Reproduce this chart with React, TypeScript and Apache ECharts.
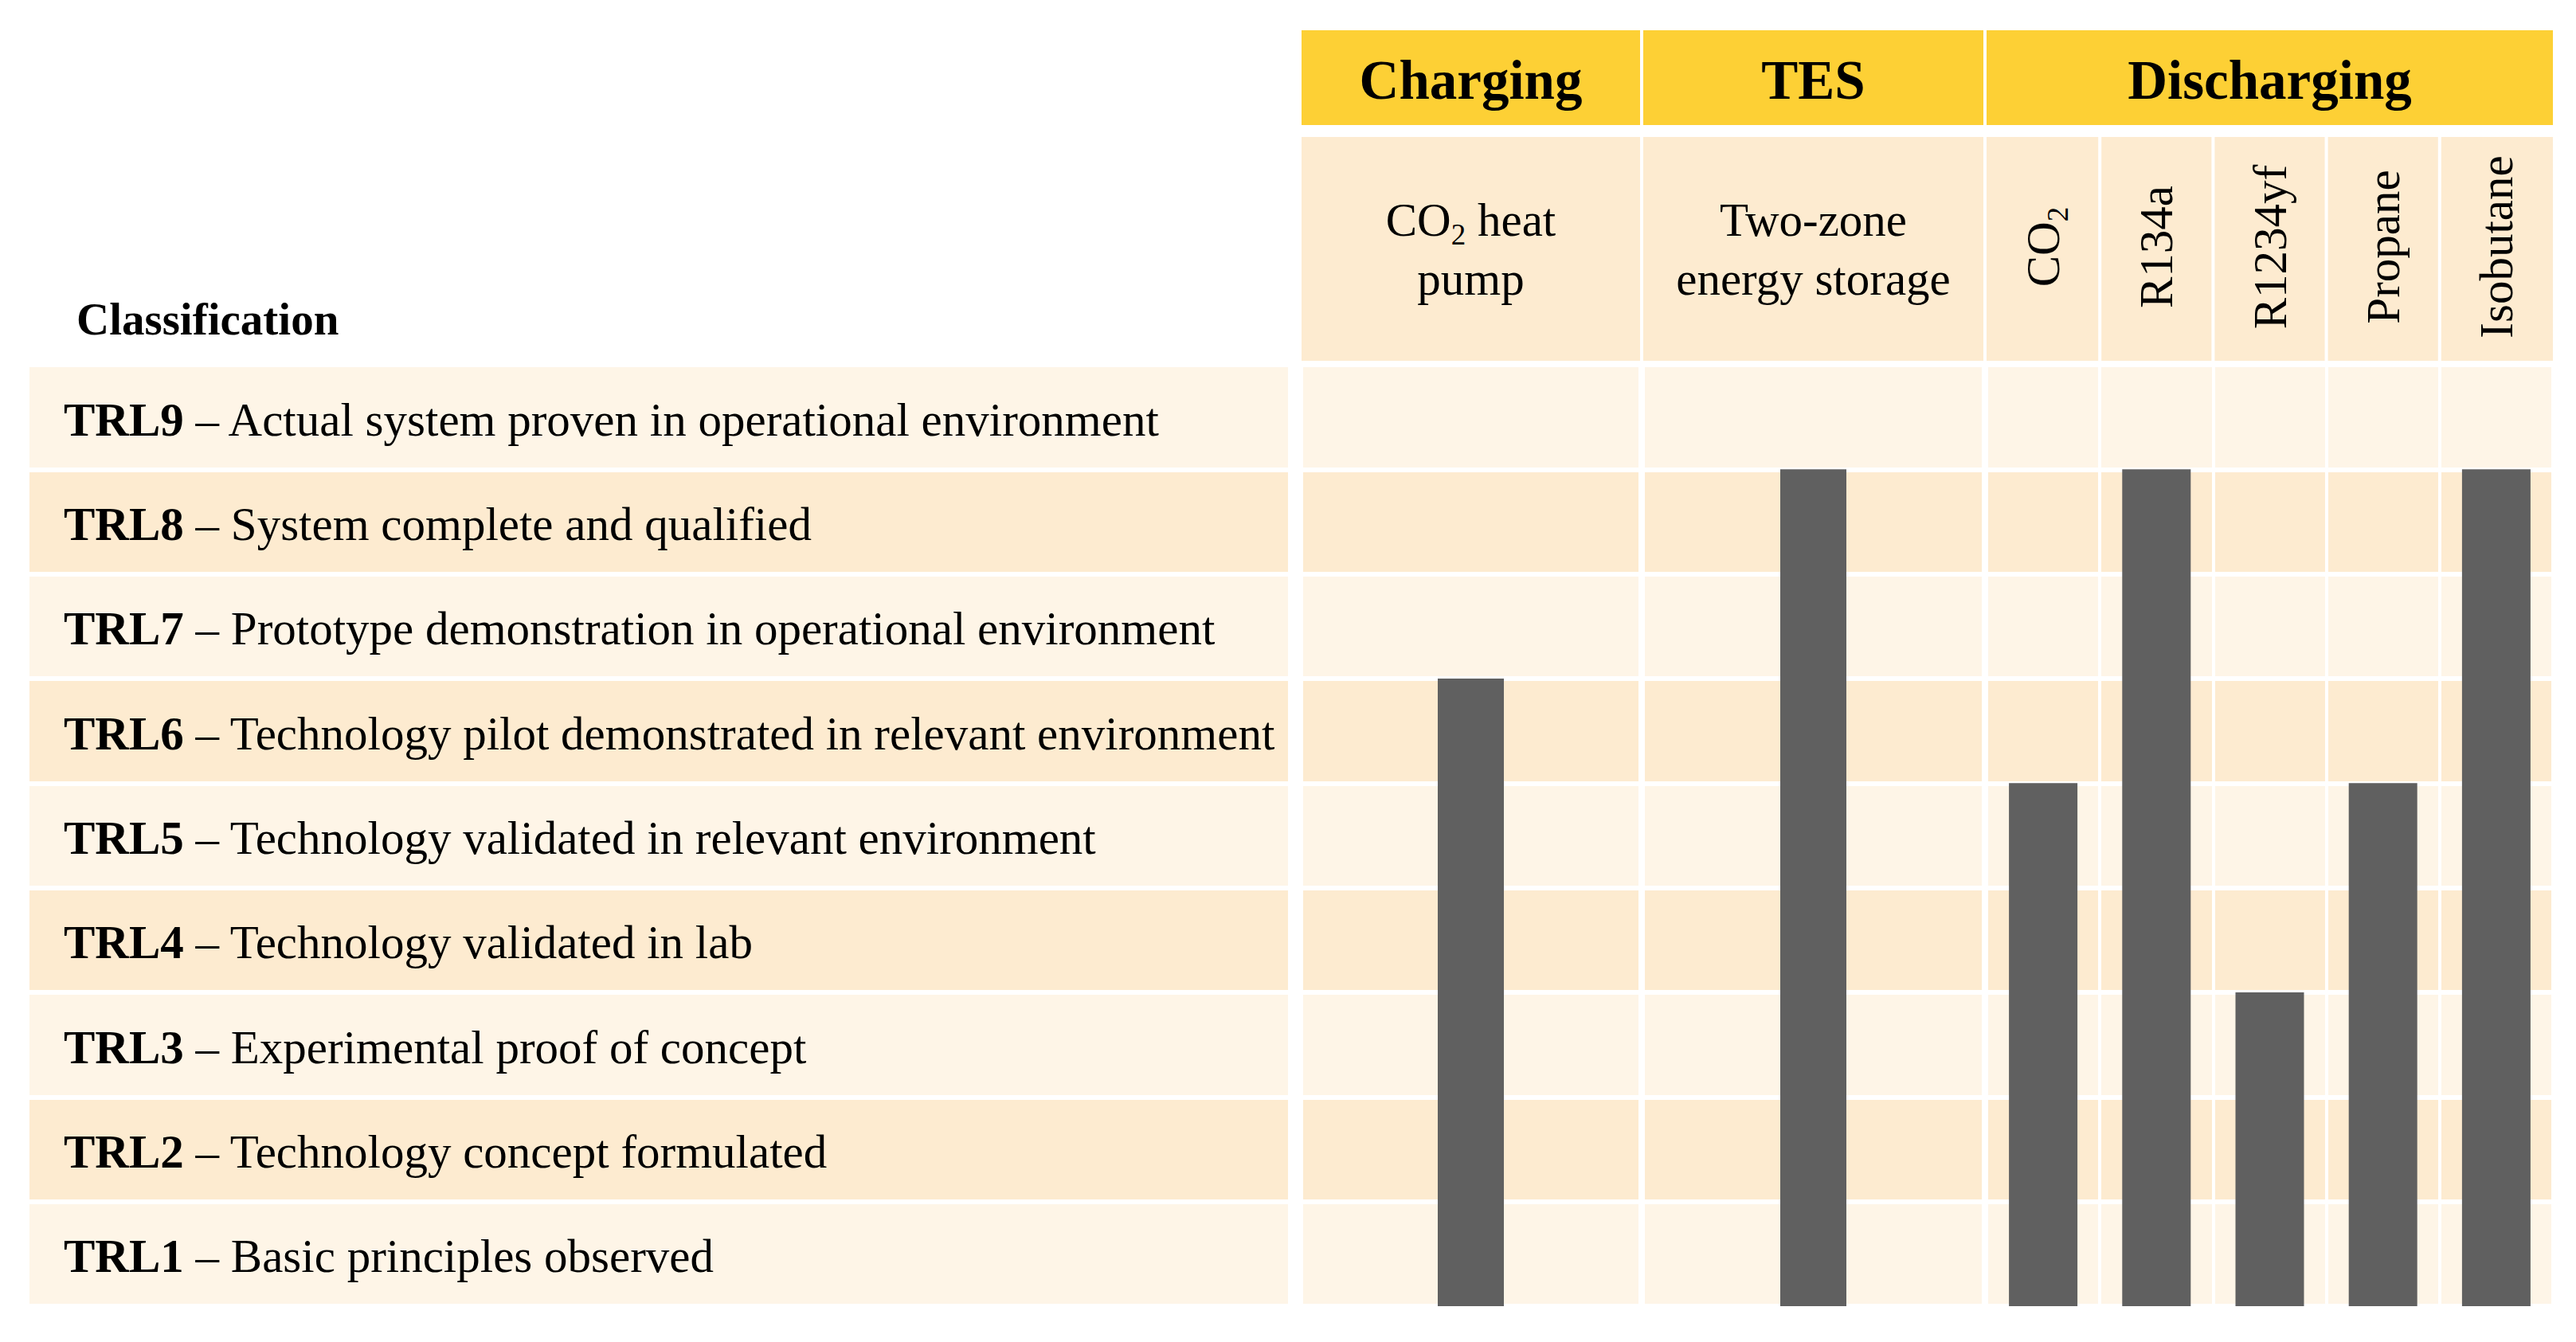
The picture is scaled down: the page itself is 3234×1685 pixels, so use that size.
import React, { useEffect, useRef } from "react";
import * as echarts from "echarts";

// ---------- data ----------
const TRL_LEVELS = ["TRL1", "TRL2", "TRL3", "TRL4", "TRL5", "TRL6", "TRL7", "TRL8", "TRL9"];
const TRL_DESCRIPTIONS = [
  "Basic principles observed",
  "Technology concept formulated",
  "Experimental proof of concept",
  "Technology validated in lab",
  "Technology validated in relevant environment",
  "Technology pilot demonstrated in relevant environment",
  "Prototype demonstration in operational environment",
  "System complete and qualified",
  "Actual system proven in operational environment",
];
const GROUPS = ["Charging", "TES", "Discharging"];
const CHARGING_TECH = ["CO2 heat pump"];
const CHARGING_TRL = [6];
const TES_TECH = ["Two-zone energy storage"];
const TES_TRL = [8];
const DISCHARGING_FLUIDS = ["CO2", "R134a", "R1234yf", "Propane", "Isobutane"];
const DISCHARGING_TRL = [5, 8, 3, 5, 8];
const CLASSIFICATION_TITLE = "Classification";

// ---------- style / layout ----------
const FONT = "'Liberation Serif', 'Times New Roman', serif";
const YELLOW = "#FDD035";
const BAND_DARK = "#FDEBD0";
const BAND_LIGHT = "#FEF5E7";
const BAR = "#606060";
const TOP = 458;
const BOTTOM = 45; // 1685 - 1640
const W = 3234;
const H = 1685;

const LEFT_GRID = { left: 37, width: 1580 };
const CH_GRID = { left: 1634, width: 425 };
const TES_GRID = { left: 2063, width: 427 };
const DIS_GRID = { left: 2494, width: 711 };
const COL_GRIDS = [CH_GRID, TES_GRID, DIS_GRID];

const LINE_WRAP: Record<string, string[]> = {
  "CO2 heat pump": ["CO2 heat", "pump"],
  "Two-zone energy storage": ["Two-zone", "energy storage"],
};

function toRich(line: string): string {
  return line
    .split("CO2")
    .map((p) => (p ? `{n|${p}}` : ""))
    .join("{n|CO}{s|2}");
}
function labelFmt(name: string): string {
  const lines = LINE_WRAP[name] || [name];
  return lines.map(toRich).join("\n");
}

const RICH = {
  n: { fontFamily: FONT, fontSize: 59, lineHeight: 74, color: "#000" },
  s: { fontFamily: FONT, fontSize: 37, lineHeight: 38, verticalAlign: "bottom", color: "#000" },
};

function valueYAxis(gridIndex: number) {
  return {
    type: "value",
    gridIndex,
    min: 0,
    max: 9,
    interval: 1,
    axisLabel: { show: false },
    axisLine: { show: false },
    axisTick: { show: false },
    splitLine: { show: true, lineStyle: { color: "#ffffff", width: 6 } },
    splitArea: { show: true, areaStyle: { color: [BAND_LIGHT, BAND_DARK] } },
  };
}

function catXAxis(gridIndex: number, data: string[], rotate: number, margin: number) {
  return {
    type: "category",
    gridIndex,
    data,
    position: "top",
    axisLine: { show: false },
    axisTick: { show: false },
    axisLabel: {
      interval: 0,
      rotate,
      margin,
      align: "center",
      verticalAlign: "middle",
      formatter: (v: string) => labelFmt(v),
      rich: RICH,
    },
    splitLine: { show: true, interval: 0, lineStyle: { color: "#ffffff", width: 4 } },
    z: 5,
  };
}

function buildGraphic() {
  const els: any[] = [];
  // header (group) cells
  COL_GRIDS.forEach((g, i) => {
    els.push({
      type: "rect",
      shape: { x: g.left, y: 38, width: g.width, height: 119 },
      style: { fill: YELLOW },
      z: 0,
    });
    els.push({
      type: "text",
      x: g.left + g.width / 2,
      y: 101,
      style: {
        text: GROUPS[i],
        fontFamily: FONT,
        fontSize: 69,
        fontWeight: "bold",
        fill: "#000",
        align: "center",
        verticalAlign: "middle",
        textAlign: "center",
        textVerticalAlign: "middle",
      },
      z: 2,
    });
  });
  // sub-header cells
  const subCells: { x: number; w: number }[] = [
    { x: CH_GRID.left, w: CH_GRID.width },
    { x: TES_GRID.left, w: TES_GRID.width },
  ];
  const dw = DIS_GRID.width / DISCHARGING_FLUIDS.length;
  DISCHARGING_FLUIDS.forEach((_, i) => {
    const x0 = DIS_GRID.left + i * dw + (i > 0 ? 2 : 0);
    const x1 = DIS_GRID.left + (i + 1) * dw - (i < DISCHARGING_FLUIDS.length - 1 ? 2 : 0);
    subCells.push({ x: x0, w: x1 - x0 });
  });
  subCells.forEach((c) => {
    els.push({
      type: "rect",
      shape: { x: c.x, y: 172, width: c.w, height: 281 },
      style: { fill: BAND_DARK },
      z: 0,
    });
  });
  els.push({
    type: "text",
    x: 96,
    y: 400,
    style: {
      text: CLASSIFICATION_TITLE,
      fontFamily: FONT,
      fontSize: 57,
      fontWeight: "bold",
      fill: "#000",
      align: "left",
      verticalAlign: "middle",
      textAlign: "left",
      textVerticalAlign: "middle",
    },
    z: 2,
  });
  return els;
}

export default function App() {
  const ref = useRef<HTMLDivElement>(null);
  useEffect(() => {
    document.body.style.margin = "0";
    if (!ref.current) return;
    const chart = echarts.init(ref.current, null, { renderer: "svg" });
    const option: any = {
      animation: false,
      backgroundColor: "#ffffff",
      grid: [
        { left: LEFT_GRID.left, width: LEFT_GRID.width, top: TOP, bottom: BOTTOM },
        { left: CH_GRID.left, width: CH_GRID.width, top: TOP, bottom: BOTTOM },
        { left: TES_GRID.left, width: TES_GRID.width, top: TOP, bottom: BOTTOM },
        { left: DIS_GRID.left, width: DIS_GRID.width, top: TOP, bottom: BOTTOM },
      ],
      xAxis: [
        { type: "value", gridIndex: 0, show: false, min: 0, max: 1 },
        catXAxis(1, CHARGING_TECH, 0, 145),
        catXAxis(2, TES_TECH, 0, 145),
        catXAxis(3, DISCHARGING_FLUIDS, 90, 148),
      ],
      yAxis: [
        {
          type: "category",
          gridIndex: 0,
          data: TRL_LEVELS,
          axisLine: { show: false },
          axisTick: { show: false },
          axisLabel: {
            interval: 0,
            inside: true,
            margin: 43,
            padding: [6, 0, 0, 0],
            fontFamily: FONT,
            fontSize: 59,
            color: "#000",
            formatter: (v: string, idx: number) => `{b|${v}}{t| – ${TRL_DESCRIPTIONS[idx]}}`,
            rich: {
              b: { fontFamily: FONT, fontSize: 59, fontWeight: "bold", color: "#000" },
              t: { fontFamily: FONT, fontSize: 59, color: "#000" },
            },
          },
          splitLine: { show: true, interval: 0, lineStyle: { color: "#ffffff", width: 6 } },
          splitArea: { show: true, interval: 0, areaStyle: { color: [BAND_LIGHT, BAND_DARK] } },
          z: 5,
        },
        valueYAxis(1),
        valueYAxis(2),
        valueYAxis(3),
      ],
      series: [
        {
          type: "bar",
          name: "Charging",
          xAxisIndex: 1,
          yAxisIndex: 1,
          data: CHARGING_TRL,
          barWidth: 83,
          itemStyle: { color: BAR },
          z: 10,
        },
        {
          type: "bar",
          name: "TES",
          xAxisIndex: 2,
          yAxisIndex: 2,
          data: TES_TRL,
          barWidth: 83,
          itemStyle: { color: BAR },
          z: 10,
        },
        {
          type: "bar",
          name: "Discharging",
          xAxisIndex: 3,
          yAxisIndex: 3,
          data: DISCHARGING_TRL,
          barWidth: 86,
          itemStyle: { color: BAR },
          z: 10,
        },
      ],
      graphic: buildGraphic(),
    };
    chart.setOption(option);
    return () => chart.dispose();
  }, []);
  return <div ref={ref} style={{ width: W, height: H }} />;
}
